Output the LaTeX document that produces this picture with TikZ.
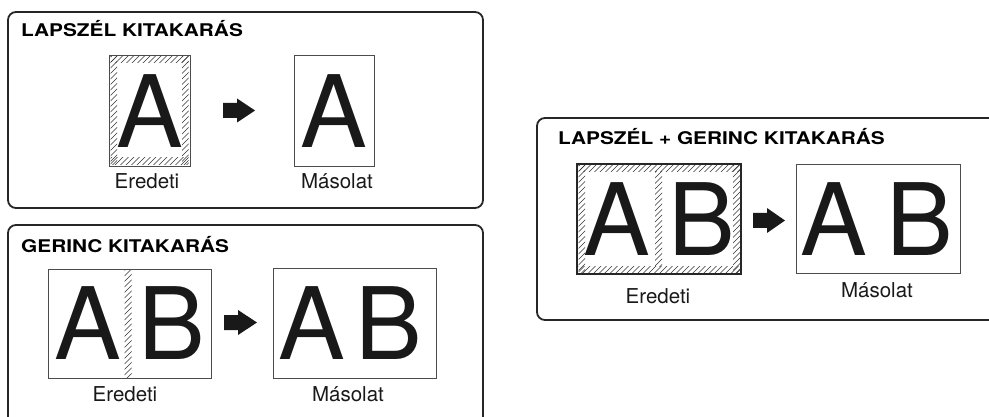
\documentclass[tikz,border=0pt]{standalone}
\usepackage{fontspec}
\setmainfont{TeX Gyre Heros}
\newfontfamily\headfont[FakeStretch=1.19]{TeX Gyre Heros}
\begin{document}
\begin{tikzpicture}[x=1pt,y=-1pt,
  frame/.style={draw=black!85,line width=1.8pt,rounded corners=8pt},
  pagebox/.style={draw=black!70,line width=0.9pt},
  thickpage/.style={draw=black!85,line width=1.6pt},
  bigletter/.style={inner sep=0pt,text=black!90,font=\fontsize{100}{100}\selectfont},
  caption/.style={inner sep=0pt,anchor=base,text=black!90,font=\fontsize{20.5}{21}\selectfont},
  heading/.style={inner sep=0pt,anchor=base west,text=black,font=\headfont\fontsize{17.5}{18}\selectfont\bfseries},
  hatchline/.style={draw=black!80,line width=0.55pt},
  fatarrow/.style={fill=black!90}]
\useasboundingbox (0,0) rectangle (989,417);

\newcommand{\hatchstrip}[4]{%
  \begin{scope}
    \clip (#1,#2) rectangle (#3,#4);
    \pgfmathsetmacro{\hatchS}{#1-(#4-#2)-6}
    \pgfmathsetmacro{\hatchN}{\hatchS+5.5}
    \foreach \k in {\hatchS,\hatchN,...,#3} \draw[hatchline] (\k,#4+1) -- ++(300,-300);
  \end{scope}}

% ---------- Box 1 ----------
\draw[frame] (8,12) rectangle (483,208);
\node[heading] (t1) at (21,37) {LAPSZÉL KITAKARÁS};
\draw[pagebox] (109,55) rectangle (190,166);
\hatchstrip{110.5}{56.5}{117}{164.5}
\hatchstrip{182}{56.5}{188.5}{164.5}
\hatchstrip{110.5}{56.5}{188.5}{63}
\hatchstrip{110.5}{158}{188.5}{164.5}
\node[bigletter] (a1) at (149.5,111) {A};
\fill[fatarrow] (223,103) -- (237,103) -- (237,98.5) -- (255,110.5) -- (237,122.5) -- (237,118) -- (223,118) -- cycle;
\draw[pagebox] (294,55) rectangle (374,166);
\node[bigletter] (a1c) at (334,111) {A};
\node[caption] (e1) at (147,189) {Eredeti};
\node[caption] (m1) at (337,189) {Másolat};

% ---------- Box 2 ----------
\draw[frame] (8,225) rectangle (483,440);
\node[heading] (t2) at (21,252) {GERINC KITAKARÁS};
\draw[pagebox] (48,269) rectangle (211,378);
\hatchstrip{124.5}{270}{131.5}{377}
\node[bigletter] (a2) at (87.5,323.5) {A};
\node[bigletter] (b2) at (172,323.5) {B};
\fill[fatarrow] (224,315) -- (238,315) -- (238,310) -- (257,322.5) -- (238,335) -- (238,330) -- (224,330) -- cycle;
\draw[pagebox] (273,268) rectangle (436,378);
\node[bigletter] (a2c) at (312,323.5) {A};
\node[bigletter] (b2c) at (389,323.5) {B};
\node[caption] (e2) at (125,401) {Eredeti};
\node[caption] (m2) at (348,401) {Másolat};

% ---------- Box 3 ----------
\draw[frame] (537,118) rectangle (1010,320);
\node[heading] (t3) at (558,145) {LAPSZÉL + GERINC KITAKARÁS};
\hatchstrip{578.5}{165.5}{585}{272.5}
\hatchstrip{733}{165.5}{740}{272.5}
\hatchstrip{578.5}{165.5}{740}{172}
\hatchstrip{578.5}{266}{740}{272.5}
\hatchstrip{655}{172}{662}{266}
\draw[thickpage] (577,164) rectangle (741,274);
\node[bigletter] (a3) at (617,219.5) {A};
\node[bigletter] (b3) at (702,219.5) {B};
\fill[fatarrow] (753,213) -- (767,213) -- (767,208) -- (785,220.5) -- (767,233) -- (767,228) -- (753,228) -- cycle;
\draw[pagebox] (796,164) rectangle (960,273);
\node[bigletter] (a3c) at (834,219.5) {A};
\node[bigletter] (b3c) at (920,219.5) {B};
\node[caption] (e3) at (658,303) {Eredeti};
\node[caption] (m3) at (877,298) {Másolat};
\end{tikzpicture}
\end{document}
